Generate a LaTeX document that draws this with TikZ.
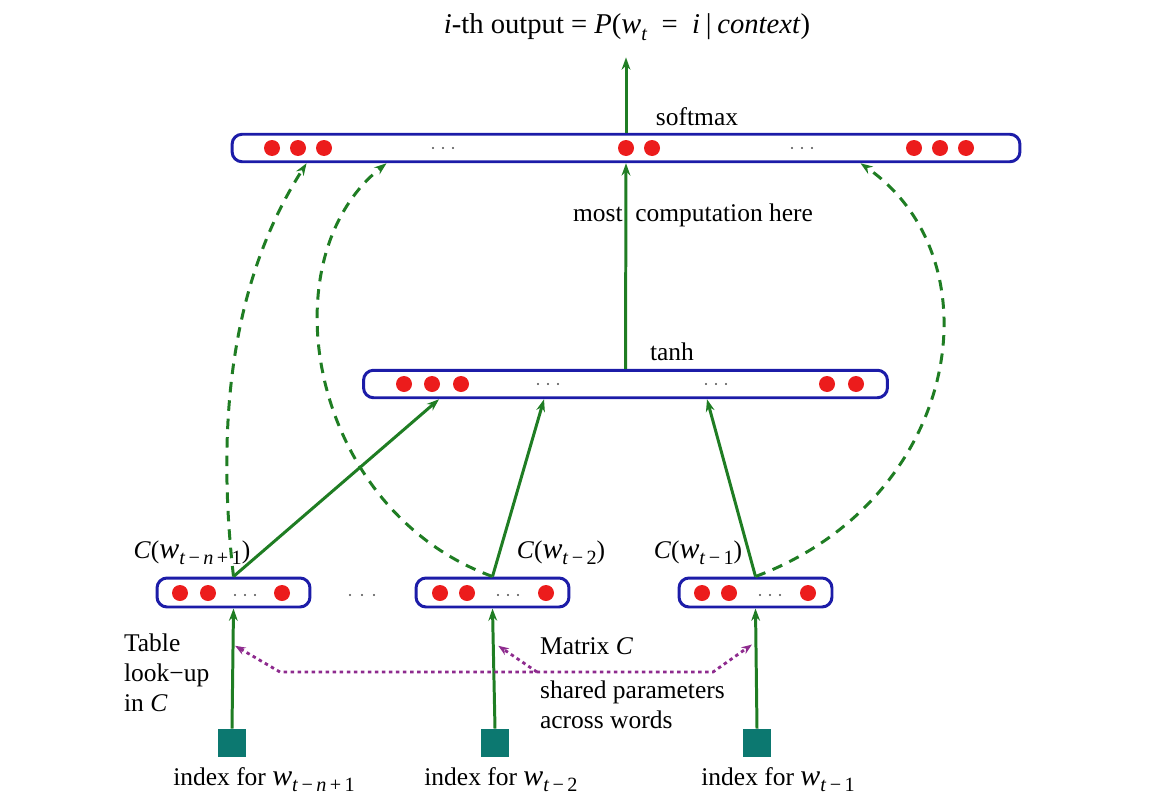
\documentclass[tikz,border=0pt]{standalone}
\usepackage{fontspec}
\setmainfont{Liberation Serif}
\usetikzlibrary{arrows.meta,calc}
\definecolor{netgreen}{RGB}{31,125,35}
\definecolor{netblue}{RGB}{28,28,168}
\definecolor{netred}{RGB}{236,28,28}
\definecolor{netteal}{RGB}{12,120,112}
\definecolor{netpurple}{RGB}{142,43,142}
\newcommand{\wsub}[1]{{\fontsize{17}{17}\selectfont\textit{w}}\raisebox{-0.5ex}{\fontsize{11.5}{12}\selectfont #1}}
\tikzset{
  bar/.style={draw=netblue, line width=1.7pt, rounded corners=0.2cm, minimum height=0.55cm, inner sep=0pt},
  wordbox/.style={bar, minimum width=3.06cm, minimum height=0.58cm},
  idxbox/.style={fill=netteal, minimum width=0.56cm, minimum height=0.56cm, inner sep=0pt},
  arr/.style={netgreen, line width=1.7pt, -{Stealth[length=7pt,width=5pt]}},
  darr/.style={arr, dash pattern=on 6pt off 4.5pt},
  shared/.style={netpurple, line width=1.6pt, dash pattern=on 2pt off 2pt},
  lbl/.style={font=\fontsize{14.5}{17}\selectfont, inner sep=1pt}
}
\begin{document}
\begin{tikzpicture}[x=0.02cm, y=-0.02cm]
\useasboundingbox (0,0) rectangle (1166,801);

\node[lbl, font=\fontsize{16.3}{19}\selectfont] (title) at (627,27) {\textit{i}-th output = \textit{P}(\wsub{\textit{t}}\ \ =\ \ \textit{i}\hspace{0.2em}|\hspace{0.2em}\textit{context})};

\node[bar, minimum width=15.76cm] (out) at (626,148) {};
\node[bar, minimum width=10.48cm] (hid) at (625.5,384) {};
\node[wordbox] (c1) at (233.5,592.5) {};
\node[wordbox] (c2) at (492.5,592.5) {};
\node[wordbox] (c3) at (755.5,592.5) {};
\node[idxbox] (idx1) at (232,743) {};
\node[idxbox] (idx2) at (495,743) {};
\node[idxbox] (idx3) at (757,743) {};

\foreach \x in {272,298,324,626,652,914,940,966} \fill[netred] (\x,148) circle (0.16cm);
\foreach \x in {404,432,461,827,856} \fill[netred] (\x,384) circle (0.16cm);
\foreach \x in {180,208,282,440,467,546,702,729,808} \fill[netred] (\x,593) circle (0.16cm);
\foreach \x in {433,443,453,792,802,812} \fill[black!70] (\x,148) circle (0.022cm);
\foreach \x in {538,548,558,706,716,726} \fill[black!70] (\x,384) circle (0.022cm);
\foreach \x in {235,245,255,498,508,518,760,770,780,350,362,374} \fill[black!70] (\x,595) circle (0.022cm);

\node[lbl] (smlbl) at (697,117) {softmax};
\node[lbl] (tanhlbl) at (672,352) {tanh};
\node[lbl] (mostlbl) at (693,215) {most\ \ computation here};
\node[lbl] (c1lbl) at (192,553) {\textit{C}(\wsub{\textit{t}\,−\,\textit{n}\,+\,1})};
\node[lbl] (c2lbl) at (561,553) {\textit{C}(\wsub{\textit{t}\,−\,2})};
\node[lbl] (c3lbl) at (698,553) {\textit{C}(\wsub{\textit{t}\,−\,1})};
\node[lbl, align=left, anchor=north west] (tablelbl) at (122,632) {Table\\look−up\\in \textit{C}};
\node[lbl, anchor=west] (matlbl) at (538,646) {Matrix \textit{C}};
\node[lbl, align=left, anchor=north west] (sharedlbl) at (538,679) {shared parameters\\across words};
\node[lbl] (i1lbl) at (264,780) {index for \wsub{\textit{t}\,−\,\textit{n}\,+\,1}};
\node[lbl] (i2lbl) at (501,780) {index for \wsub{\textit{t}\,−\,2}};
\node[lbl] (i3lbl) at (778,780) {index for \wsub{\textit{t}\,−\,1}};

\draw[arr] (out.north) -- ([yshift=-0.3cm]title.south -| out.north);
\draw[arr] (hid.north) -- (out.south);
\draw[arr] (c1.north) -- ([xshift=1.54cm]hid.south west);
\draw[arr] (c2.north) -- ([xshift=3.64cm]hid.south west);
\draw[arr] (c3.north) -- ([xshift=6.9cm]hid.south west);
\draw[arr] (idx1.north) -- (c1.south);
\draw[arr] (idx2.north) -- (c2.south);
\draw[arr] (idx3.north) -- (c3.south);

\draw[darr] (c1.north) .. controls (218,440) and (225,290) .. ([xshift=1.52cm]out.south west);
\draw[darr] (c2.north) .. controls (310,510) and (265,260) .. ([xshift=3.12cm]out.south west);
\draw[darr] (c3.north) .. controls (960,500) and (1000,260) .. ([xshift=12.6cm]out.south west);

\coordinate (pl) at (280,672);
\coordinate (pm) at (537,672);
\coordinate (pr) at (713,672);
\draw[shared, {Stealth[length=6pt,width=4.5pt]}-{Stealth[length=6pt,width=4.5pt]}] ([xshift=0.04cm]$(c1.south)!0.31!(idx1.north)$) -- (pl) -- (pr) -- ([xshift=-0.08cm]$(c3.south)!0.3!(idx3.north)$);
\draw[shared, -{Stealth[length=6pt,width=4.5pt]}] (pm) -- ([xshift=0.1cm]$(c2.south)!0.31!(idx2.north)$);

\end{tikzpicture}
\end{document}
